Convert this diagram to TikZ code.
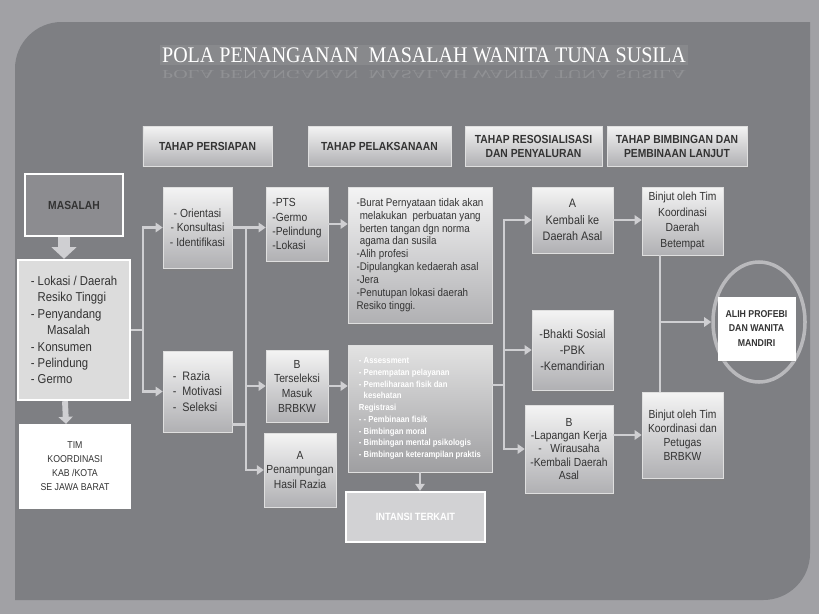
\documentclass[tikz,border=0pt]{standalone}
\usepackage{fontspec}
\setmainfont{Liberation Sans}
\newfontfamily\narrowfont{Liberation Sans}[FakeStretch=0.88]
\newfontfamily\titlefont{Liberation Serif}[FakeStretch=0.9]
\usepackage{graphicx}
\usepackage{tikz}
\usetikzlibrary{arrows.meta, shapes.geometric, shadows}

\definecolor{pagegray}{HTML}{A1A1A5}
\definecolor{panelgray}{HTML}{7E7F83}
\definecolor{boxtop}{HTML}{F4F4F4}
\definecolor{boxbot}{HTML}{B0B0B3}
\definecolor{linkgray}{HTML}{CFCFD2}
\definecolor{inkgray}{HTML}{333333}
\definecolor{masalahgray}{HTML}{8C8C90}
\definecolor{listgray}{HTML}{DCDCDC}
\definecolor{intansigray}{HTML}{D2D2D4}
\definecolor{ringgray}{HTML}{B9B9BC}

\begin{document}
\begin{tikzpicture}[x=0.03cm, y=-0.03cm,
  box/.style={draw=white!75!gray, line width=0.5pt, top color=boxtop, bottom color=boxbot,
              drop shadow={shadow xshift=0.6pt, shadow yshift=-2.6pt, opacity=0.55},
              align=center, inner sep=2pt, text=inkgray,
              font=\narrowfont\fontsize{10}{12.5}\selectfont},
  head/.style={box, minimum height=1.2cm, font=\narrowfont\bfseries\fontsize{10}{12}\selectfont},
  framed/.style={draw=white, line width=2pt, align=center, text=inkgray, inner sep=3pt},
  title/.style={font=\titlefont\fontsize{19}{20}\selectfont, text=white, inner sep=2pt},
  link/.style={draw=linkgray, line width=2.4pt},
  arrow/.style={link, -{Triangle[width=8pt,length=6pt]}},
  bigarrow/.style={draw=linkgray, line width=10pt, -{Triangle[width=21pt,length=10pt]}},
  midarrow/.style={draw=linkgray, line width=5pt, -{Triangle[width=12pt,length=6pt]}},
]
  \useasboundingbox (0,0) rectangle (819,614);

  % background
  \fill[pagegray] (0,0) rectangle (819,614);
  \fill[panelgray] (15,300) [rounded corners=1.4cm] -- (15,22) -- (300,22) [sharp corners]
    -- (810,22) -- (810,300) [rounded corners=1.4cm] -- (810,600) -- (500,600) [sharp corners]
    -- (15,600) -- cycle;

  % title
  \node[title, fill=white, fill opacity=0.08, text opacity=1] (title) at (424,55)
    {POLA PENANGANAN\ \ MASALAH WANITA TUNA SUSILA};
  \node[title, text opacity=0.14] (mirror) at (424,74)
    {\scalebox{1}[-0.55]{POLA PENANGANAN\ \ MASALAH WANITA TUNA SUSILA}};

  % stages
  \node[head, minimum width=3.87cm] (persiapan) at (207.5,146) {TAHAP PERSIAPAN};
  \node[head, minimum width=4.29cm] (pelaksanaan) at (379.5,146) {TAHAP PELAKSANAAN};
  \node[head, minimum width=4.11cm] (resos) at (533.5,146) {TAHAP RESOSIALISASI\\DAN PENYALURAN};
  \node[head, minimum width=4.2cm] (lanjut) at (677,146) {TAHAP BIMBINGAN DAN\\PEMBINAAN LANJUT};

  % masalah column
  \node[framed, fill=masalahgray, minimum width=2.94cm, minimum height=1.86cm,
        font=\narrowfont\bfseries\fontsize{10}{12}\selectfont] (masalah) at (74,205) {MASALAH};
  \node[framed, fill=listgray, minimum width=3.36cm, minimum height=4.2cm, align=left,
        font=\narrowfont\fontsize{11}{14}\selectfont] (list) at (74,330)
    {- Lokasi / Daerah\\\hphantom{- }Resiko Tinggi\\- Penyandang\\\hphantom{- M}Masalah\\- Konsumen\\- Pelindung\\- Germo};
  \node[framed, fill=white, minimum width=3.3cm, minimum height=2.49cm,
        drop shadow={shadow xshift=0pt, shadow yshift=-1.5pt, opacity=0.4},
        font=\narrowfont\fontsize{8.5}{12}\selectfont] (tim) at (75,466.5)
    {TIM\\KOORDINASI\\KAB /KOTA\\SE JAWA BARAT};

  % persiapan
  \node[box, minimum width=2.07cm, minimum height=2.43cm] (orient) at (197.5,227.5)
    {- Orientasi\\- Konsultasi\\- Identifikasi};
  \node[box, minimum width=2.07cm, minimum height=2.43cm, align=left,
        font=\narrowfont\fontsize{10.5}{13}\selectfont] (razia) at (197.5,391.5)
    {-\ \ Razia\\-\ \ Motivasi\\-\ \ Seleksi};

  % pelaksanaan
  \node[box, minimum width=1.86cm, minimum height=2.22cm, align=left,
        font=\narrowfont\fontsize{10}{12}\selectfont] (pts) at (297,224)
    {-PTS\\-Germo\\-Pelindung\\-Lokasi};
  \node[box, minimum width=4.32cm, minimum height=4.08cm, align=left,
        font=\narrowfont\fontsize{9.5}{11}\selectfont] (burat) at (420,255)
    {-Burat Pernyataan tidak akan\\\hphantom{-}melakukan\ \ perbuatan yang\\\hphantom{-}berten tangan dgn norma\\\hphantom{-}agama dan susila\\-Alih profesi\\-Dipulangkan kedaerah asal\\-Jera\\-Penutupan lokasi daerah\\Resiko tinggi.};
  \node[box, minimum width=1.86cm, minimum height=2.16cm] (bsel) at (297,386)
    {B\\Terseleksi\\Masuk\\BRBKW};
  \node[box, minimum width=2.04cm, minimum height=2.22cm] (apen) at (300,470)
    {A\\Penampungan\\Hasil Razia};
  \node[box, minimum width=4.32cm, minimum height=3.81cm, align=left, text=white,
        top color=boxtop!85!gray, bottom color=boxbot!90!black,
        font=\narrowfont\bfseries\fontsize{7.5}{10}\selectfont] (assess) at (420,408.5)
    {- Assessment\\- Penempatan pelayanan\\- Pemeliharaan fisik dan\\\hphantom{- }kesehatan\\Registrasi\\- - Pembinaan fisik\\- Bimbingan moral\\- Bimbingan mental psikologis\\- Bimbingan keterampilan praktis};
  \node[framed, fill=intansigray, text=white, minimum width=4.17cm, minimum height=1.5cm,
        drop shadow={shadow xshift=0pt, shadow yshift=-2pt, opacity=0.5},
        font=\narrowfont\bfseries\fontsize{9}{11}\selectfont] (intansi) at (415.5,517) {INTANSI TERKAIT};

  % resosialisasi
  \node[box, minimum width=2.43cm, minimum height=1.98cm,
        font=\narrowfont\fontsize{10.5}{14}\selectfont] (kembali) at (572.5,220)
    {A\\Kembali ke\\Daerah Asal};
  \node[box, minimum width=2.43cm, minimum height=2.4cm,
        font=\narrowfont\fontsize{10.5}{14}\selectfont] (bhakti) at (572.5,350)
    {-Bhakti Sosial\\-PBK\\-Kemandirian};
  \node[box, minimum width=2.64cm, minimum height=2.64cm,
        font=\narrowfont\fontsize{10}{11.5}\selectfont] (lapangan) at (569,449)
    {B\\-Lapangan Kerja\\-\ \ \ Wirausaha\\-Kembali Daerah\\Asal};

  % bimbingan lanjut
  \node[box, minimum width=2.43cm, minimum height=2.04cm,
        font=\narrowfont\fontsize{10}{13.4}\selectfont] (binjut1) at (682.5,221)
    {Binjut oleh Tim\\Koordinasi\\Daerah\\Betempat};
  \node[box, minimum width=2.43cm, minimum height=2.58cm,
        font=\narrowfont\fontsize{10}{12}\selectfont] (binjut2) at (682.5,435)
    {Binjut oleh Tim\\Koordinasi dan\\Petugas\\BRBKW};
  \node[draw=ringgray, line width=3pt, ellipse, minimum width=2.76cm, minimum height=3.6cm] (ring) at (759,322) {};
  \node[draw=white, fill=white, minimum width=2.31cm, minimum height=1.89cm, align=center, text=inkgray,
        drop shadow={shadow xshift=0pt, shadow yshift=-1.5pt, opacity=0.4},
        font=\narrowfont\bfseries\fontsize{8.5}{12}\selectfont] (alih) at (756.5,328.5)
    {ALIH PROFEBI\\DAN WANITA\\MANDIRI};

  % Arrows
  \draw[bigarrow] ([xshift=-0.3cm]masalah.south) -- ([xshift=-0.3cm]list.north);
  \draw[midarrow] ([xshift=-0.27cm]list.south) -- ([xshift=-0.27cm]tim.north);

  \draw[link] (list.east) -- (143,330) coordinate (j1);
  \draw[arrow] (j1) |- (orient.west);
  \draw[arrow] (j1) |- (razia.west);

  \coordinate (j2) at (246,227.5);
  \draw[arrow] (orient.east) -- (orient.east -| pts.west);
  \draw[arrow] (j2) |- (bsel.west);
  \draw[arrow] (j2) |- (apen.west);
  \path ([yshift=-1cm]razia.east) coordinate (rz);
  \draw[link] (rz) -- (rz -| j2);

  \draw[arrow] (pts.east) -- (pts.east -| burat.west);
  \draw[arrow] (bsel.east) -- (bsel.east -| assess.west);
  \draw[arrow] (assess.south) -- (assess.south |- intansi.north);

  \coordinate (j3) at (504,385);
  \draw[link] (j3 -| assess.east) -- (j3);
  \draw[arrow] (j3) |- (kembali.west);
  \draw[arrow] (j3) |- (bhakti.west);
  \draw[arrow] (j3) |- (lapangan.west);

  \draw[arrow] (kembali.east) -- (kembali.east -| binjut1.west);
  \draw[arrow] (lapangan.east |- binjut2.west) -- (binjut2.west);
  \coordinate (j4) at (660,322);
  \draw[link] (j4 |- binjut1.south) -- (j4 |- binjut2.north);
  \draw[arrow] (j4) -- (ring.west);
\end{tikzpicture}
\end{document}
